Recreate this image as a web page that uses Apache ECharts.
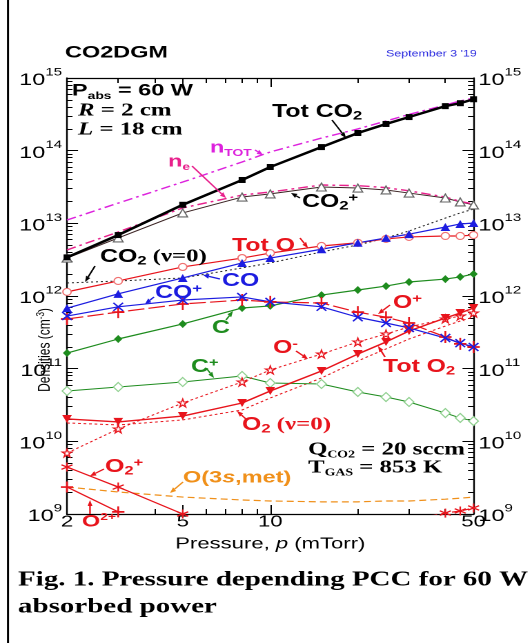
<!DOCTYPE html>
<html><head><meta charset="utf-8">
<script src="https://cdn.jsdelivr.net/npm/echarts@6/dist/echarts.min.js"></script>
<style>
html,body{margin:0;padding:0;background:#fff;overflow:hidden}
#wrap{width:529px;height:643px;overflow:hidden;position:relative;background:#fff}
#chart{position:absolute;left:0;top:0;height:643px;transform-origin:0 0}
</style></head><body>
<div id="wrap"><div id="chart"></div></div>
<script>
// ---------- data ----------
const pressure = [2, 3, 5, 8, 10, 15, 20, 25, 30, 40, 45, 50];
const totCO2  = [3.4e12, 6.9e12, 1.8e13, 3.95e13, 5.96e13, 1.12e14, 1.75e14, 2.33e14, 2.9e14, 4.1e14, 4.5e14, 5.1e14];
const nTot    = [1.11e13, 1.9e13, 3.7e13, 6.98e13, 9.6e13, 1.49e14, 1.99e14, 2.56e14, 3.15e14, 4.25e14, 4.83e14, 5.3e14];
const nE      = [4.3e12, 7.6e12, 1.63e13, 2.45e13, 2.7e13, 3.37e13, 3.3e13, 3.1e13, 2.8e13, 2.3e13, 2.0e13, 1.85e13];
const co2Ion  = [3.33e12, 6.3e12, 1.39e13, 2.3e13, 2.54e13, 3.16e13, 3.06e13, 2.88e13, 2.61e13, 2.23e13, 1.97e13, 1.79e13];
const co2V0   = [1.51e12, 1.61e12, 1.77e12, 2.43e12, 2.85e12, 4.04e12, 5.04e12, 6.29e12, 7.85e12, 1.18e13, 1.39e13, 1.57e13];
const totO    = [1.14e12, 1.61e12, 2.51e12, 3.33e12, 3.9e12, 4.88e12, 5.4e12, 6.1e12, 6.5e12, 6.7e12, 6.7e12, 6.9e12];
const coN     = [6.8e11, 1.07e12, 1.77e12, 2.85e12, 3.33e12, 4.4e12, 5.4e12, 6.3e12, 7.1e12, 8.9e12, 9.8e12, 1.01e13];
const coIon   = [5.3e11, 7.1e11, 8.8e11, 9.7e11, 8.3e11, 7.1e11, 5.1e11, 4.25e11, 3.63e11, 2.64e11, 2.25e11, 1.99e11];
const oIon    = [4.83e11, 6.0e11, 7.77e11, 8.8e11, 8.3e11, 8.0e11, 6.0e11, 5.1e11, 4.25e11, 2.73e11, 2.19e11, 1.99e11];
const cN      = [1.64e11, 2.56e11, 4.12e11, 6.84e11, 7.3e11, 1.03e12, 1.21e12, 1.37e12, 1.56e12, 1.71e12, 1.83e12, 2.01e12];
const cIon    = [4.93e10, 5.6e10, 6.56e10, 7.93e10, 6.35e10, 6.15e10, 4.78e10, 4.07e10, 3.48e10, 2.45e10, 2.1e10, 1.9e10];
const oNeg    = [6.9e9, 1.48e10, 3.37e10, 6.56e10, 9.6e10, 1.59e11, 2.33e11, 3.0e11, 3.75e11, 4.83e11, 5.3e11, 5.84e11];
const totO2   = [2.03e10, 1.85e10, 2.23e10, 3.37e10, 4.93e10, 9.3e10, 1.59e11, 2.33e11, 3.3e11, 4.98e11, 5.84e11, 6.84e11];
const o2V0    = [1.79e10, 1.68e10, 1.97e10, 2.7e10, 3.95e10, 7.45e10, 1.28e11, 1.87e11, 2.56e11, 3.86e11, 4.53e11, 5.14e11];
const o3sMet  = [2.35e9, 2.01e9, 1.71e9, 1.56e9, 1.51e9, 1.47e9, 1.47e9, 1.51e9, 1.51e9, 1.6e9, 1.65e9, 1.71e9];
const o2IonP  = [2, 3, 5];
const o2Ion   = [4.43e9, 2.35e9, 1.0e9];
const o2IonHiP = [30, 40, 45, 50];
const o2IonHi  = [8.4e8, 1.03e9, 1.1e9, 1.21e9];
const o2pp_P  = [2, 3];
const o2pp    = [2.35e9, 1.07e9];

const xLabelValues = [2, 5, 10, 50];
const xMajorTicks  = [2, 5, 10, 50];
const xMinorTicks  = [3, 4, 6, 7, 8, 9, 20, 30, 40];
// the top decade is given a hair below 1e15 so that it survives the axis extent filter
const yLabelValues = [1e9, 1e10, 1e11, 1e12, 1e13, 1e14, 0.99999e15];
const yMinorTicks = [];
for (let k = 9; k < 15; k++) for (let m = 2; m <= 9; m++) yMinorTicks.push(m * Math.pow(10, k));

// ---------- layout ----------
const S = 1.38;                 // horizontal stretch of the reference image
const X = px => px / S;         // screen x -> chart internal x
const el = document.getElementById('chart');
el.style.width = (529 / S) + 'px';
el.style.transform = 'scaleX(' + S + ')';
const chart = echarts.init(el, null, {renderer: 'canvas', devicePixelRatio: 2});

const SANS = 'Liberation Sans', SERIF = 'Liberation Serif';
const RED = '#e8141c', BLUE = '#1c1ce0', GREEN = '#1e8c1e', MAG = '#dd22dd', PINK = '#e8208c', ORANGE = '#f0901a';

const pts = (xs, ys) => xs.map((x, i) => [x, ys[i]]);
const PATH_X = 'path://M0,0L10,10M10,0L0,10';
const PATH_PLUS = 'path://M5,0L5,10M0,5L10,5';
const PATH_AST = 'path://M5,0L5,10M0.7,2.5L9.3,7.5M0.7,7.5L9.3,2.5';
const PATH_STAR = 'path://M5,0L6.2,3.6L10,3.6L6.9,5.8L8.1,9.5L5,7.2L1.9,9.5L3.1,5.8L0,3.6L3.8,3.6Z';

function line(name, xs, ys, o) {
  return Object.assign({
    type: 'line', name, data: pts(xs, ys), xAxisIndex: 0, yAxisIndex: 0,
    animation: false, silent: true, clip: true, symbol: 'none'
  }, o);
}

const series = [
  line('O(3s,met)', pressure, o3sMet, {lineStyle: {color: ORANGE, width: 1.2, type: [5, 3]}}),
  line('O2 (v=0)', pressure, o2V0, {lineStyle: {color: RED, width: 1, type: [2, 2]}}),
  line('CO2 (v=0)', pressure, co2V0, {lineStyle: {color: '#222', width: 1, type: [1.5, 2]}}),
  line('nTOT', pressure, nTot, {lineStyle: {color: MAG, width: 1.4, type: [7, 3, 2, 3]}}),
  line('C+', pressure, cIon, {symbol: 'diamond', symbolSize: [7, 9], lineStyle: {color: GREEN, width: 1},
        itemStyle: {color: '#fff', borderColor: '#8fd08f', borderWidth: 1}}),
  line('C', pressure, cN, {symbol: 'diamond', symbolSize: [6, 8], lineStyle: {color: GREEN, width: 1.2},
        itemStyle: {color: GREEN}}),
  line('O-', pressure, oNeg, {symbol: PATH_STAR, symbolSize: [7, 8], lineStyle: {color: RED, width: 1, type: [2, 2]},
        itemStyle: {color: '#fff', borderColor: RED, borderWidth: 1}}),
  line('Tot O2', pressure, totO2, {symbol: 'triangle', symbolRotate: 180, symbolSize: [7, 8], lineStyle: {color: RED, width: 1.4},
        itemStyle: {color: RED}}),
  line('O+', pressure, oIon, {symbol: PATH_PLUS, symbolSize: [9, 12], lineStyle: {color: RED, width: 1.2, type: [12, 3]},
        itemStyle: {color: 'none', borderColor: RED, borderWidth: 1.5}}),
  line('CO+', pressure, coIon, {symbol: PATH_X, symbolSize: [7, 8], lineStyle: {color: BLUE, width: 1.2},
        itemStyle: {color: 'none', borderColor: BLUE, borderWidth: 1.3}}),
  line('Tot O', pressure, totO, {symbol: 'circle', symbolSize: [6, 7], lineStyle: {color: RED, width: 1.2},
        itemStyle: {color: '#fff', borderColor: '#f07070', borderWidth: 1}}),
  line('CO', pressure, coN, {symbol: 'triangle', symbolSize: [7, 8], lineStyle: {color: BLUE, width: 1.2},
        itemStyle: {color: BLUE}}),
  line('CO2+', pressure, co2Ion, {symbol: 'triangle', symbolSize: [7, 8], lineStyle: {color: '#3a2222', width: 1},
        itemStyle: {color: '#fff', borderColor: '#666', borderWidth: 1}}),
  line('ne', pressure, nE, {lineStyle: {color: PINK, width: 1.4, type: [7, 3, 2, 3]}}),
  line('Tot CO2', pressure, totCO2, {symbol: 'rect', symbolSize: [5, 6], lineStyle: {color: '#000', width: 2.4},
        itemStyle: {color: '#000'}}),
  line('O2+', o2IonP, o2Ion, {symbol: PATH_AST, symbolSize: [8, 9], lineStyle: {color: RED, width: 1.2},
        itemStyle: {color: 'none', borderColor: RED, borderWidth: 1.2}}),
  line('O2+ high p', o2IonHiP, o2IonHi, {symbol: PATH_AST, symbolSize: [8, 9], lineStyle: {color: RED, width: 1.2, type: [5, 3]},
        itemStyle: {color: 'none', borderColor: RED, borderWidth: 1.2}}),
  line('O2++', o2pp_P, o2pp, {symbol: PATH_PLUS, symbolSize: [9, 11], lineStyle: {color: RED, width: 1.2},
        itemStyle: {color: 'none', borderColor: RED, borderWidth: 1.5}})
];

const axisLineStyle = {color: '#000', width: 1.2};
function xAx(pos, major, showLine, showLabel) {
  return {
    type: 'log', logBase: 10, min: 2, max: 50, position: pos, gridIndex: 0,
    axisLine: {show: showLine, onZero: false, lineStyle: axisLineStyle},
    axisTick: {show: true, inside: true, length: major ? 9 : 5, customValues: major ? xMajorTicks : xMinorTicks,
               lineStyle: {color: '#000', width: 1}},
    axisLabel: {show: showLabel, customValues: xLabelValues, margin: 0, fontSize: 16, fontFamily: SANS, color: '#000'},
    splitLine: {show: false}, minorTick: {show: false}
  };
}
function yAx(pos, major, showLine, showLabel) {
  return {
    type: 'log', logBase: 10, min: 1e9, max: 1e15, position: pos, gridIndex: 0,
    axisLine: {show: showLine, onZero: false, lineStyle: axisLineStyle},
    axisTick: {show: true, inside: true, length: major ? 8 : 4, customValues: major ? yLabelValues : yMinorTicks,
               lineStyle: {color: '#000', width: 1}},
    axisLabel: {show: showLabel, customValues: yLabelValues, margin: 3.5,
      formatter: v => '{b|10}{s|' + Math.round(Math.log10(v)) + '}',
      rich: {b: {fontSize: 17, fontFamily: SANS, color: '#000', lineHeight: 22, verticalAlign: 'bottom'},
             s: {fontSize: 11, fontFamily: SANS, color: '#000', lineHeight: 12, verticalAlign: 'top'}}},
    splitLine: {show: false}, minorTick: {show: false}
  };
}
const xAxes = [xAx('bottom', true, true, true), xAx('bottom', false, false, false), xAx('top', true, true, false), xAx('top', false, false, false)];
xAxes[0].name = '{a|Pressure, }{i|p}{a| (mTorr)}';
xAxes[0].nameLocation = 'middle';
xAxes[0].nameGap = 22;
xAxes[0].nameTextStyle = {rich: {a: {fontSize: 16, fontFamily: SANS, color: '#000'}, i: {fontSize: 16, fontFamily: SANS, fontStyle: 'italic', color: '#000'}}};
const yAxes = [yAx('left', true, true, true), yAx('right', true, true, true), yAx('left', false, false, false), yAx('right', false, false, false)];

// ---------- annotations ----------
const rich = {
  m: {fontSize: 18, fontFamily: SANS, fontWeight: 'bold', lineHeight: 20},
  sub: {fontSize: 12, fontFamily: SANS, fontWeight: 'bold', lineHeight: 12, verticalAlign: 'bottom'},
  sup: {fontSize: 12, fontFamily: SANS, fontWeight: 'bold', lineHeight: 12, verticalAlign: 'top'},
  tm: {fontSize: 18, fontFamily: SERIF, fontWeight: 'bold', lineHeight: 20},
  ti: {fontSize: 18, fontFamily: SERIF, fontWeight: 'bold', fontStyle: 'italic', lineHeight: 20},
  tsub: {fontSize: 10, fontFamily: SERIF, fontWeight: 'bold', lineHeight: 10, verticalAlign: 'bottom'},
  mi: {fontSize: 17, fontFamily: SANS, fontWeight: 'bold', fontStyle: 'italic', lineHeight: 20},
  m17: {fontSize: 17, fontFamily: SANS, fontWeight: 'bold', lineHeight: 20},
  n: {fontSize: 17, fontFamily: SANS, fontWeight: 'bold', lineHeight: 20},
  nsub: {fontSize: 10, fontFamily: SANS, fontWeight: 'bold', lineHeight: 10, verticalAlign: 'bottom'},
  psub: {fontSize: 10, fontFamily: SANS, fontWeight: 'bold', lineHeight: 10, verticalAlign: 'bottom'},
  sup2: {fontSize: 10, fontFamily: SANS, fontWeight: 'bold', lineHeight: 10, verticalAlign: 'top'}
};
function lbl(x, y, text, color) {
  return {type: 'text', x: X(x), y: y, z: 100, silent: true,
    style: {text: text, rich: rich, fill: color, align: 'left', verticalAlign: 'middle',
            fontSize: 18, fontFamily: SANS, fontWeight: 'bold'}};
}
function arrow(x1, y1, x2, y2, color) {
  const dx = x2 - x1, dy = y2 - y1, L = Math.hypot(dx, dy), ux = dx / L, uy = dy / L;
  const hl = 6, hw = 2.4, bx = x2 - ux * hl, by = y2 - uy * hl;
  return [
    {type: 'line', z: 99, silent: true, shape: {x1: X(x1), y1: y1, x2: X(bx), y2: by}, style: {stroke: color, lineWidth: 1.2}},
    {type: 'polygon', z: 99, silent: true, shape: {points: [[X(x2), y2], [X(bx - uy * hw), by + ux * hw], [X(bx + uy * hw), by - ux * hw]]},
     style: {fill: color}}
  ];
}

const graphics = [
  {type: 'line', silent: true, shape: {x1: X(8), y1: 0, x2: X(8), y2: 643}, style: {stroke: '#000', lineWidth: 1.5}},
  lbl(65, 53, '{m17|CO2DGM}', '#000'),
  {type: 'text', x: X(386), y: 54, silent: true, style: {text: "September 3 '19", fill: '#2a2ae0', fontSize: 9, fontFamily: SANS, verticalAlign: 'middle'}},
  lbl(72, 91, '{m17|P}{psub|abs}{m17| = 60 W}', '#000'),
  lbl(78, 111, '{ti|R}{tm| = 2 cm}', '#000'),
  lbl(78, 130, '{ti|L}{tm| = 18 cm}', '#000'),
  lbl(272, 112, '{m|Tot CO}{sub|2}', '#000'),
  lbl(210, 148, '{n|n}{nsub|TOT}', MAG),
  lbl(168, 162, '{n|n}{nsub|e}', PINK),
  lbl(302, 202, '{m|CO}{sub|2}{sup|+}', '#000'),
  lbl(100, 257, '{m|CO}{sub|2}{tm| (ν=0)}', '#000'),
  lbl(232, 246, '{m|Tot O}', RED),
  lbl(222, 281, '{m|CO}', BLUE),
  lbl(155, 293, '{m|CO}{sup|+}', BLUE),
  lbl(212, 328, '{m|C}', GREEN),
  lbl(393, 303, '{m|O}{sup|+}', RED),
  lbl(273, 348, '{m|O}{sup|-}', RED),
  lbl(383, 367, '{m|Tot O}{sub|2}', RED),
  lbl(191, 367, '{m|C}{sup|+}', GREEN),
  lbl(242, 425, '{m|O}{sub|2}{tm| (ν=0)}', RED),
  lbl(308, 450, '{tm|Q}{tsub|CO2}{tm| = 20 sccm}', '#000'),
  lbl(308, 468, '{tm|T}{tsub|GAS}{tm| = 853 K}', '#000'),
  lbl(105, 467, '{m|O}{sub|2}{sup|+}', RED),
  lbl(183, 478, '{m17|O(3}{mi|s}{m17|,met)}', ORANGE),
  lbl(82, 522, '{m17|O}{sup2|2+}', RED),
  {type: 'text', x: X(45), y: 350, rotation: Math.PI / 2, silent: true,
   style: {text: '{a|Densities (cm}{s|-3}{a|)}', align: 'center', verticalAlign: 'middle',
           rich: {a: {fontSize: 12, fontFamily: SANS, fill: '#000', lineHeight: 14}, s: {fontSize: 8, fontFamily: SANS, fill: '#000', lineHeight: 8, verticalAlign: 'top'}}}},
  {type: 'text', x: X(18), y: 580, silent: true,
   style: {text: 'Fig. 1. Pressure depending PCC for 60 W', fill: '#000', fontSize: 21, fontFamily: SERIF, fontWeight: 'bold', verticalAlign: 'middle'}},
  {type: 'text', x: X(18), y: 607, silent: true,
   style: {text: 'absorbed power', fill: '#000', fontSize: 21, fontFamily: SERIF, fontWeight: 'bold', verticalAlign: 'middle'}}
].concat(
  arrow(332, 120, 346, 138, '#000'),
  arrow(255, 150, 263, 155, MAG),
  arrow(192, 166, 226, 198, PINK),
  arrow(300, 198, 291, 193, '#000'),
  arrow(95, 266, 85, 282, '#000'),
  arrow(300, 238, 308, 248, RED),
  arrow(220, 279, 203, 275, BLUE),
  arrow(154, 297, 145, 304, BLUE),
  arrow(226, 320, 233, 311, GREEN),
  arrow(390, 305, 378, 314, RED),
  arrow(296, 351, 308, 359, RED),
  arrow(385, 357, 378, 346, RED),
  arrow(207, 369, 214, 378, GREEN),
  arrow(247, 420, 237, 411, RED),
  arrow(104, 469, 90, 476, RED),
  arrow(183, 482, 170, 493, ORANGE),
  arrow(90, 514, 90, 500, RED)
);

chart.setOption({
  backgroundColor: '#fff',
  animation: false,
  grid: {left: X(67), right: X(529 - 474), top: 78, bottom: 643 - 514, containLabel: false},
  xAxis: xAxes,
  yAxis: yAxes,
  series: series,
  graphic: graphics
});
</script>
</body></html>
